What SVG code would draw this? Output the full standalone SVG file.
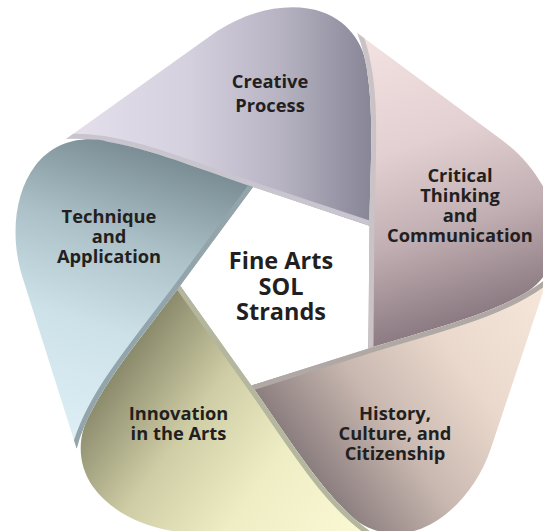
<svg xmlns="http://www.w3.org/2000/svg" xmlns:xlink="http://www.w3.org/1999/xlink" width="543" height="531" viewBox="0 0 543 531">
<style>
.lbl { font-family: "Open Sans", "Liberation Sans", sans-serif; font-weight: 700; font-size: 18.3px; fill: #231f20; text-anchor: middle; }
.ctr { font-size: 23.5px; }
.lip { fill: none; stroke-width: 10; stroke-linejoin: round; }
</style>
<defs>
<path id="strand" d="M 369.4,225.8 L 253,187 C 180,162 120,136 66,139 L 213,34 C 247,10 290,1 322,12 C 351,22 366,48 367.6,73.6 C 374,116.8 370.3,167.9 369.4,225.8 Z"/>
<path id="edge" d="M 369.4,225.8 L 253,187 C 180,162 120,136 66,139"/>
<clipPath id="clipStrand"><use href="#strand"/></clipPath>
<linearGradient id="gPurple" gradientUnits="userSpaceOnUse" x1="66" y1="0" x2="372" y2="0">
<stop offset="0" stop-color="#e5e0ec"/><stop offset="0.4" stop-color="#d5d0de"/><stop offset="0.7" stop-color="#b7b3c3"/><stop offset="1" stop-color="#878696"/>
</linearGradient>
<linearGradient id="gPink" gradientUnits="userSpaceOnUse" x1="66" y1="0" x2="372" y2="0">
<stop offset="0" stop-color="#f4e3e3"/><stop offset="0.4" stop-color="#e3d0d2"/><stop offset="0.7" stop-color="#c0aeb2"/><stop offset="1" stop-color="#8b7a81"/>
</linearGradient>
<linearGradient id="gBrown" gradientUnits="userSpaceOnUse" x1="66" y1="0" x2="372" y2="0">
<stop offset="0" stop-color="#f7e8db"/><stop offset="0.4" stop-color="#ead8cc"/><stop offset="0.7" stop-color="#c9b8b0"/><stop offset="1" stop-color="#8a7d7e"/>
</linearGradient>
<linearGradient id="gYellow" gradientUnits="userSpaceOnUse" x1="66" y1="0" x2="372" y2="0">
<stop offset="0" stop-color="#fbfad6"/><stop offset="0.4" stop-color="#efedc4"/><stop offset="0.7" stop-color="#cfcda5"/><stop offset="1" stop-color="#8a8a6c"/>
</linearGradient>
<linearGradient id="gBlue" gradientUnits="userSpaceOnUse" x1="66" y1="0" x2="372" y2="0">
<stop offset="0" stop-color="#dff0f6"/><stop offset="0.4" stop-color="#cde1e9"/><stop offset="0.7" stop-color="#acc0c7"/><stop offset="1" stop-color="#7a8d94"/>
</linearGradient>
</defs>
<rect width="543" height="531" fill="#ffffff"/>
<g id="creative-process">
<use href="#strand" fill="url(#gPurple)"/>
<use href="#edge" class="lip" stroke="#c8c5ce" clip-path="url(#clipStrand)"/>
<text class="lbl" x="270" y="88">Creative</text>
<text class="lbl" x="270" y="112">Process</text>
</g>
<g id="critical-thinking-and-communication">
<g transform="rotate(72 284.5 286.5)">
<use href="#strand" fill="url(#gPink)"/>
<use href="#edge" class="lip" stroke="#c9c3c5" clip-path="url(#clipStrand)"/>
</g>
<text class="lbl" x="460" y="181.5">Critical</text>
<text class="lbl" x="460" y="201.5">Thinking</text>
<text class="lbl" x="460" y="221.5">and</text>
<text class="lbl" x="460" y="241.5">Communication</text>
</g>
<g id="history-culture-and-citizenship">
<g transform="rotate(144 284.5 286.5)">
<use href="#strand" fill="url(#gBrown)"/>
<use href="#edge" class="lip" stroke="#b0a8a5" clip-path="url(#clipStrand)"/>
</g>
<text class="lbl" x="395" y="420">History,</text>
<text class="lbl" x="395" y="440">Culture, and</text>
<text class="lbl" x="395" y="460">Citizenship</text>
</g>
<g id="innovation-in-the-arts">
<g transform="rotate(216 284.5 286.5)">
<use href="#strand" fill="url(#gYellow)"/>
<use href="#edge" class="lip" stroke="#b4b69e" clip-path="url(#clipStrand)"/>
</g>
<text class="lbl" x="178.5" y="420">Innovation</text>
<text class="lbl" x="178.5" y="440">in the Arts</text>
</g>
<g id="technique-and-application">
<g transform="rotate(288 284.5 286.5)">
<use href="#strand" fill="url(#gBlue)"/>
<use href="#edge" class="lip" stroke="#93a5ab" clip-path="url(#clipStrand)"/>
</g>
<text class="lbl" x="109" y="223">Technique</text>
<text class="lbl" x="109" y="243">and</text>
<text class="lbl" x="109" y="263">Application</text>
</g>
<g id="fine-arts-sol-strands">
<text class="lbl ctr" x="281" y="269">Fine Arts</text>
<text class="lbl ctr" x="281" y="294.5">SOL</text>
<text class="lbl ctr" x="281" y="320">Strands</text>
</g>
</svg>
